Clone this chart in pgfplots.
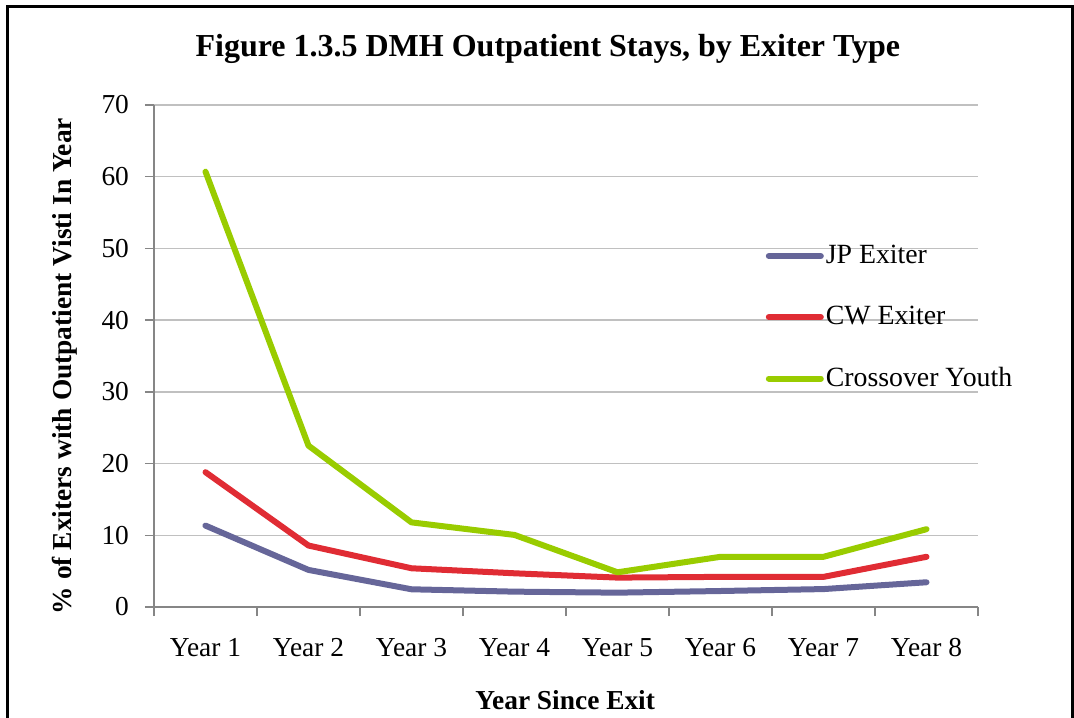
\documentclass[border=0pt]{standalone}
\usepackage{fontspec}
\setmainfont{Liberation Serif}
\usepackage{pgfplots}
\pgfplotsset{compat=1.18}

\definecolor{jpcol}{RGB}{102,102,153}
\definecolor{cwcol}{RGB}{224,44,52}
\definecolor{cycol}{RGB}{153,204,0}
\definecolor{gridcol}{RGB}{192,192,192}
\definecolor{axcol}{RGB}{134,134,134}

\begin{document}
\begin{tikzpicture}[x=1pt,y=1pt]
\begin{axis}[
    scale only axis,
    width=412pt,
    height=251pt,
    at={(0,0)},
    anchor=origin,
    xmin=0.5, xmax=8.5,
    ymin=0, ymax=70,
    xtick={0.5,1.5,...,8.5},
    x tick label as interval,
    xticklabels={Year 1,Year 2,Year 3,Year 4,Year 5,Year 6,Year 7,Year 8},
    ytick={0,10,...,70},
    axis x line*=bottom,
    axis y line*=left,
    axis line style={draw=axcol, line width=0.7pt, -},
    tick style={draw=axcol, line width=0.7pt},
    tick align=outside,
    major tick length=4.5pt,
    ymajorgrids,
    grid style={draw=gridcol, line width=0.7pt},
    /pgf/number format/assume math mode=true,
    tick label style={font=\fontsize{13.7}{16}\selectfont},
    yticklabel style={xshift=-4.5pt},
    xticklabel style={yshift=-7pt, anchor=base, yshift=-13pt},
    title={Figure 1.3.5 DMH Outpatient Stays, by Exiter Type},
    title style={font=\fontsize{16}{19}\selectfont\bfseries,
        at={(axis description cs:0.478,1)}, anchor=base, yshift=18pt},
    xlabel={Year Since Exit},
    ylabel={\% of Exiters with Outpatient Visti In Year},
    label style={font=\fontsize{13.7}{16}\selectfont\bfseries},
    xlabel style={at={(axis description cs:0.499,0)}, anchor=center, yshift=-46.5pt},
    ylabel style={at={(axis description cs:-0.108,0.48)}, anchor=center, rotate=0},
    legend style={draw=none, fill=none,
        at={(axis description cs:0.742,0.725)}, anchor=north west,
        inner sep=0pt, row sep=17.8pt,
        font=\fontsize{13.9}{16}\selectfont,
        nodes={inner sep=1pt}},
    legend cell align=left,
    legend image code/.code={\draw[#1, line cap=round] (0pt,0pt) -- (26pt,0pt);},
    every axis plot/.append style={line width=3pt, line cap=round, line join=round, mark=none},
]
\addplot[jpcol] coordinates {
    (1,11.35) (2,5.17) (3,2.47) (4,2.14) (5,2.0) (6,2.23) (7,2.5) (8,3.45)
};
\addplot[cwcol] coordinates {
    (1,18.8) (2,8.57) (3,5.4) (4,4.7) (5,4.1) (6,4.2) (7,4.2) (8,7.0)
};
\addplot[cycol] coordinates {
    (1,60.7) (2,22.5) (3,11.8) (4,10.05) (5,4.84) (6,7.0) (7,7.0) (8,10.85)
};
\legend{JP Exiter, CW Exiter, Crossover Youth}
\end{axis}
\draw[line width=1.5pt, line cap=rect] (-73,-70) -- (-73,300) -- (459,300) -- (459,-70);
\pgfresetboundingbox
\path[use as bounding box] (-77,-55) rectangle (460,303.5);
\end{tikzpicture}
\end{document}
